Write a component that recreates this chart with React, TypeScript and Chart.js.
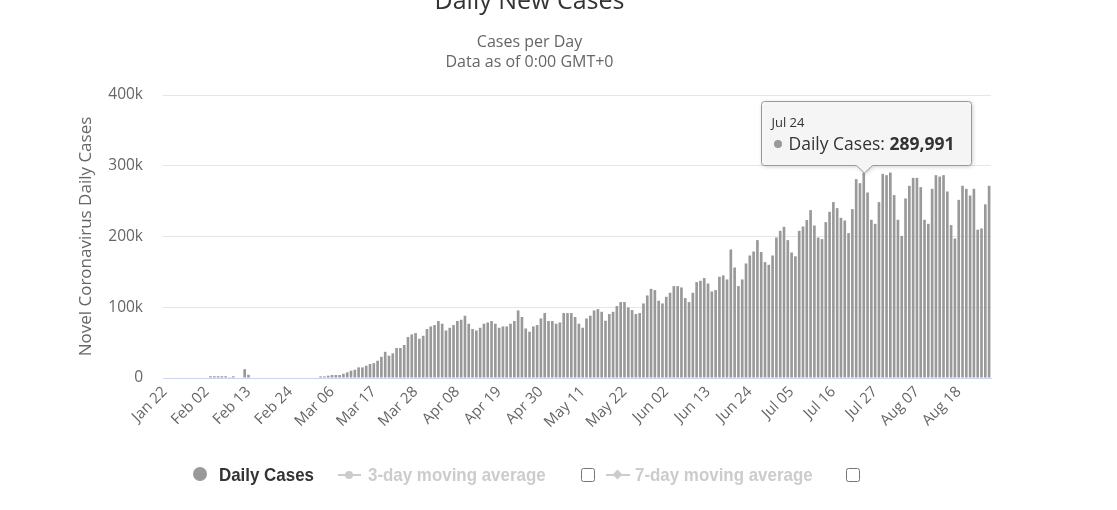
import React, { useEffect, useRef } from "react";
import { Chart, registerables } from "chart.js";

Chart.register(...registerables);

// ---- categories (Jan 22 .. Aug 26) ----
const MONTH_SPANS: [string, number, number][] = [
  ["Jan", 22, 31],
  ["Feb", 1, 29],
  ["Mar", 1, 31],
  ["Apr", 1, 30],
  ["May", 1, 31],
  ["Jun", 1, 30],
  ["Jul", 1, 31],
  ["Aug", 1, 26],
];
const categories: string[] = [];
MONTH_SPANS.forEach(([m, a, b]) => {
  for (let d = a; d <= b; d++) categories.push(`${m} ${String(d).padStart(2, "0")}`);
});

// ---- daily cases ----
const janCases = [0, 0, 0, 0, 0, 0, 0, 0, 0, 0];
const febCases = [
  0, 0, 2500, 2500, 2500, 2500, 2500, 1200, 2400, 0, 0, 12500, 4500, 0, 0, 0,
  0, 0, 0, 0, 0, 0, 0, 0, 0, 0, 0, 0, 0,
];
const marCases = [
  0, 0, 2300, 2300, 3300, 4200, 4200, 4200, 6000, 8000, 10300, 11700, 15000,
  15000, 17400, 19700, 21000, 24400, 30000, 37000, 31500, 34800, 42400, 42400,
  46600, 57900, 61600, 63500, 55500, 59700, 69200,
];
const aprCases = [
  72900, 74800, 80500, 76700, 67200, 71000, 74800, 80500, 82300, 88000, 76700,
  69200, 67200, 71000, 76700, 78500, 80500, 76700, 71000, 72900, 72900, 76700,
  80500, 95500, 86200, 70000, 65400, 72900, 74800, 84200,
];
const mayCases = [
  91800, 80500, 80500, 76700, 78500, 91800, 91800, 91800, 86200, 76700, 71000,
  84200, 88000, 95500, 97400, 93600, 80900, 90400, 93600, 101700, 107300,
  107300, 99700, 96000, 90400, 91800, 105400, 116700, 126000, 124300, 109200,
];
const junCases = [
  105400, 114800, 120500, 129900, 129900, 128000, 113000, 107300, 120500,
  135600, 137400, 141200, 133600, 122300, 124300, 143100, 145000, 139300,
  181700, 156200, 129900, 139300, 161900, 173200, 178800, 194900, 178000,
  163800, 160000, 173200,
];
const julCases = [
  198600, 208000, 213700, 194900, 177400, 172000, 208000, 214100, 223200,
  237300, 215500, 198600, 196300, 220300, 234900, 248600, 240100, 226400,
  222600, 204800, 238700, 281100, 275400, 289991, 262200, 223600, 217900,
  248600, 288500, 286700, 290400,
];
const augCases = [
  258500, 223600, 200900, 253800, 271600, 282900, 282900, 269800, 223600,
  217900, 267400, 286700, 284700, 286700, 263600, 216100, 197200, 251800,
  271600, 267400, 257900, 267400, 209600, 211400, 245500, 271600,
];
const dailyCases = [
  ...janCases, ...febCases, ...marCases, ...aprCases,
  ...mayCases, ...junCases, ...julCases, ...augCases,
];

const yTicks = [0, 100000, 200000, 300000, 400000];
const yTickLabels = ["0", "100k", "200k", "300k", "400k"];
const TICK_EVERY = 11;
const TOOLTIP_LABEL = "Jul 24";
const SERIES_NAME = "Daily Cases";

const FONT = '"Open Sans", "DejaVu Sans", sans-serif';
const LEGEND_FONT = '"Liberation Sans", Arial, sans-serif';

const fixedTooltip = {
  id: "fixedTooltip",
  afterDatasetsDraw(chart: any) {
    const idx = categories.indexOf(TOOLTIP_LABEL);
    const el = chart.getDatasetMeta(0).data[idx];
    if (!el) return;
    const ctx = chart.ctx as CanvasRenderingContext2D;
    const tipX = Math.round(el.x) + 0.5;
    const tipY = Math.round(el.y);
    const w = 210;
    const h = 64;
    const left = Math.round(tipX - 104) + 0.5;
    const bottom = tipY - 8 + 0.5;
    const top = bottom - h;
    const r = 3;
    ctx.save();
    ctx.beginPath();
    ctx.moveTo(left + r, top);
    ctx.lineTo(left + w - r, top);
    ctx.arcTo(left + w, top, left + w, top + r, r);
    ctx.lineTo(left + w, bottom - r);
    ctx.arcTo(left + w, bottom, left + w - r, bottom, r);
    ctx.lineTo(tipX + 8, bottom);
    ctx.lineTo(tipX, tipY);
    ctx.lineTo(tipX - 8, bottom);
    ctx.lineTo(left + r, bottom);
    ctx.arcTo(left, bottom, left, bottom - r, r);
    ctx.lineTo(left, top + r);
    ctx.arcTo(left, top, left + r, top, r);
    ctx.closePath();
    ctx.shadowColor = "rgba(0,0,0,0.22)";
    ctx.shadowBlur = 4;
    ctx.shadowOffsetX = 1;
    ctx.shadowOffsetY = 1;
    ctx.fillStyle = "rgba(247,247,247,0.96)";
    ctx.fill();
    ctx.shadowColor = "transparent";
    ctx.strokeStyle = "#999";
    ctx.lineWidth = 1;
    ctx.stroke();

    ctx.textBaseline = "alphabetic";
    ctx.textAlign = "left";
    ctx.fillStyle = "#333";
    ctx.font = `13px ${FONT}`;
    ctx.fillText(TOOLTIP_LABEL, left + 10, top + 25);

    ctx.beginPath();
    ctx.fillStyle = "#999";
    ctx.arc(left + 16.5, top + 42.5, 4, 0, Math.PI * 2);
    ctx.fill();

    ctx.fillStyle = "#333";
    ctx.font = `17.5px ${FONT}`;
    const label = `${SERIES_NAME}: `;
    ctx.fillText(label, left + 27, top + 48);
    const lw = ctx.measureText(label).width;
    ctx.font = `bold 17.5px ${FONT}`;
    ctx.fillText(dailyCases[idx].toLocaleString("en-US"), left + 27 + lw, top + 48);
    ctx.restore();
  },
};

export default function App() {
  const ref = useRef<HTMLCanvasElement>(null);

  useEffect(() => {
    document.body.style.margin = "0";
    const chart = new Chart(ref.current as HTMLCanvasElement, {
      type: "bar",
      data: {
        labels: categories,
        datasets: [
          {
            label: SERIES_NAME,
            data: dailyCases,
            backgroundColor: "#999999",
            borderWidth: 0,
            categoryPercentage: 1,
            barPercentage: 0.7,
          },
        ],
      },
      options: {
        responsive: false,
        animation: false,
        devicePixelRatio: 1,
        layout: { padding: { left: 68, right: 126, top: 0, bottom: 52 } },
        plugins: {
          legend: { display: false },
          tooltip: { enabled: false },
          title: {
            display: true,
            text: "Daily New Cases",
            color: "#333333",
            font: { family: FONT, size: 25, weight: "normal", lineHeight: 0.12 },
            padding: { top: 0, bottom: 0 },
          },
          subtitle: {
            display: true,
            text: ["Cases per Day", "Data as of 0:00 GMT+0"],
            color: "#666666",
            font: { family: FONT, size: 16, lineHeight: 1.25 },
            padding: { top: 29, bottom: 23 },
          },
        },
        scales: {
          x: {
            type: "category",
            offset: true,
            grid: { display: false, drawTicks: false },
            border: { display: true, color: "#ccd6eb", width: 1 },
            ticks: {
              autoSkip: false,
              minRotation: 45,
              maxRotation: 45,
              padding: 5,
              color: "#666666",
              font: { family: FONT, size: 15 },
              callback: function (this: any, val: any, i: number) {
                return i % TICK_EVERY === 0 ? this.getLabelForValue(val) : null;
              },
            },
            afterFit: (scale: any) => {
              scale.height = 80;
            },
          },
          y: {
            min: 0,
            max: 400000,
            grid: {
              drawTicks: false,
              color: (c: any) => (c.tick && c.tick.value === 0 ? "rgba(0,0,0,0)" : "#e6e6e6"),
              lineWidth: 1,
            },
            border: { display: false },
            afterBuildTicks: (scale: any) => {
              scale.ticks = yTicks.map((v) => ({ value: v }));
            },
            ticks: {
              padding: 20,
              color: "#666666",
              font: { family: FONT, size: 15.5 },
              callback: (v: any) => yTickLabels[yTicks.indexOf(Number(v))] ?? "",
            },
            title: {
              display: true,
              text: "Novel Coronavirus Daily Cases",
              color: "#666666",
              font: { family: FONT, size: 17 },
              padding: { top: 8, bottom: 0 },
            },
            afterFit: (scale: any) => {
              scale.width = 95;
            },
          },
        },
      },
      plugins: [fixedTooltip],
    } as any);
    return () => chart.destroy();
  }, []);

  const legendText = (color: string): React.CSSProperties => ({
    position: "absolute",
    top: 465,
    font: `bold 19px ${LEGEND_FONT}`,
    lineHeight: "19px",
    color,
    whiteSpace: "nowrap",
    transform: "scaleX(0.89)",
    transformOrigin: "0 50%",
  });

  return (
    <div style={{ position: "relative", width: 1117, height: 510, background: "#fff", overflow: "hidden" }}>
      <canvas ref={ref} width={1117} height={510} style={{ display: "block", width: 1117, height: 510 }} />
      {/* legend */}
      <div style={{ position: "absolute", left: 193, top: 467, width: 14, height: 14, borderRadius: "50%", background: "#999" }} />
      <div style={{ ...legendText("#333333"), left: 219 }}>Daily Cases</div>

      <div style={{ position: "absolute", left: 338, top: 474, width: 23, height: 2, background: "#cccccc" }} />
      <div style={{ position: "absolute", left: 345, top: 471, width: 8, height: 8, borderRadius: "50%", background: "#cccccc" }} />
      <div style={{ ...legendText("#cccccc"), left: 368 }}>3-day moving average</div>
      <input type="checkbox" style={{ position: "absolute", left: 581, top: 468, margin: 0, width: 14, height: 14 }} />

      <div style={{ position: "absolute", left: 606, top: 474, width: 24, height: 2, background: "#cccccc" }} />
      <div style={{ position: "absolute", left: 614, top: 471, width: 7, height: 7, background: "#cccccc", transform: "rotate(45deg)" }} />
      <div style={{ ...legendText("#cccccc"), left: 635 }}>7-day moving average</div>
      <input type="checkbox" style={{ position: "absolute", left: 846, top: 468, margin: 0, width: 14, height: 14 }} />
    </div>
  );
}
